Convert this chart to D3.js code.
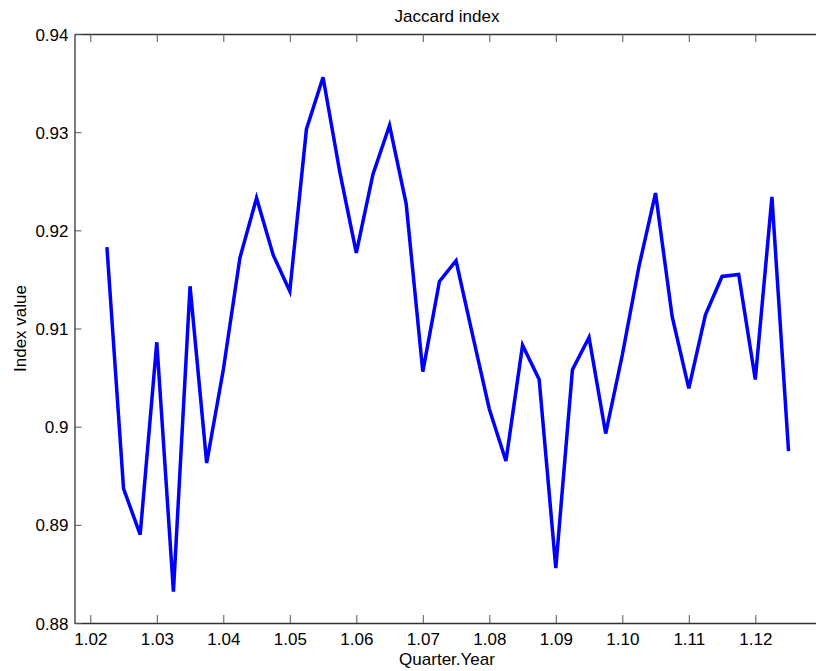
<!DOCTYPE html>
<html>
<head>
<meta charset="utf-8">
<script src="https://cdn.jsdelivr.net/npm/d3@7"></script>
<style>
  body { margin: 0; background: #fff; }
  svg { display: block; }
  text { font-family: "Liberation Sans", Arial, sans-serif; fill: #000; }
</style>
</head>
<body>
<div id="chart"></div>
<script>
// quarter.year positions (x) and Jaccard index values (y)
const quarters = [
    1.0225, 1.025, 1.0275, 1.03, 1.0325, 1.035, 1.0375, 1.04, 1.0425, 1.045,
    1.0475, 1.05, 1.0525, 1.055, 1.0575, 1.06, 1.0625, 1.065, 1.0675, 1.07,
    1.0725, 1.075, 1.0775, 1.08, 1.0825, 1.085, 1.0875, 1.09, 1.0925, 1.095,
    1.0975, 1.10, 1.1025, 1.105, 1.1075, 1.11, 1.1125, 1.115, 1.1175, 1.12,
    1.1225, 1.125
];
const jaccard = [
    0.9183, 0.8937, 0.8890, 0.9086, 0.8832, 0.9143, 0.8963, 0.9058, 0.9172, 0.9233,
    0.9175, 0.9138, 0.9303, 0.9356, 0.9260, 0.9177, 0.9257, 0.9307, 0.9227, 0.9056,
    0.9148, 0.9169, 0.9093, 0.9018, 0.8965, 0.9083, 0.9048, 0.8856, 0.9058, 0.9091,
    0.8993, 0.9073, 0.9163, 0.9238, 0.9112, 0.9039, 0.9114, 0.9153, 0.9155, 0.9048,
    0.9234, 0.8975
];
const xTicks = [1.02, 1.03, 1.04, 1.05, 1.06, 1.07, 1.08, 1.09, 1.10, 1.11, 1.12];
const yTicks = [0.88, 0.89, 0.90, 0.91, 0.92, 0.93, 0.94];
const yTickLabels = ["0.88", "0.89", "0.9", "0.91", "0.92", "0.93", "0.94"];

const width = 816, height = 671;
// axes box runs a little past the right edge of the picture
const margin = {top: 34, right: -4, bottom: 48, left: 74.5};
const innerW = width - margin.left - margin.right;
const innerH = height - margin.top - margin.bottom;

const svg = d3.select("#chart").append("svg")
    .attr("width", width)
    .attr("height", height);

const g = svg.append("g")
    .attr("transform", `translate(${margin.left},${margin.top})`);

// 1.02 sits ~16px inside the left edge, 66.5px per 0.01
const x = d3.scaleLinear()
    .domain([1.02 - 15.8 / 6650, 1.02 + (innerW - 15.8) / 6650])
    .range([0, innerW]);
const y = d3.scaleLinear()
    .domain([0.88, 0.94])
    .range([innerH, 0]);

const axisColor = "#333";

// bottom axis, ticks pointing in
const xAxis = g.append("g")
    .attr("transform", `translate(0,${innerH})`)
    .call(d3.axisBottom(x).tickValues(xTicks).tickSize(-8).tickSizeOuter(0)
        .tickFormat(d3.format(".2f")).tickPadding(10));
// top axis, ticks only
const xTop = g.append("g")
    .call(d3.axisTop(x).tickValues(xTicks).tickSize(-8).tickSizeOuter(0).tickFormat(""));
const yAxis = g.append("g")
    .call(d3.axisLeft(y).tickValues(yTicks).tickSize(-7).tickSizeOuter(0)
        .tickFormat((d, i) => yTickLabels[i]).tickPadding(6));

[xAxis, xTop, yAxis].forEach(a => {
    a.select(".domain").attr("stroke", axisColor).attr("stroke-width", 1.3);
    a.selectAll(".tick line").attr("stroke", "#555").attr("stroke-width", 1);
    a.selectAll(".tick text").style("font-size", "17px").attr("fill", "#000");
});
yAxis.selectAll(".tick text").attr("dy", "0.36em");

// the line
const line = d3.line()
    .x((d, i) => x(quarters[i]))
    .y(d => y(d));

g.append("path")
    .datum(jaccard)
    .attr("fill", "none")
    .attr("stroke", "#0000ff")
    .attr("stroke-width", 3.5)
    .attr("stroke-linejoin", "miter")
    .attr("d", line);

// labels
svg.append("text")
    .attr("x", 447)
    .attr("y", 22)
    .attr("text-anchor", "middle")
    .style("font-size", "17px")
    .text("Jaccard index");

svg.append("text")
    .attr("x", 447)
    .attr("y", 665)
    .attr("text-anchor", "middle")
    .style("font-size", "17px")
    .text("Quarter.Year");

svg.append("text")
    .attr("transform", `translate(26,${margin.top + innerH / 2}) rotate(-90)`)
    .attr("text-anchor", "middle")
    .style("font-size", "17px")
    .text("Index value");
</script>
</body>
</html>
